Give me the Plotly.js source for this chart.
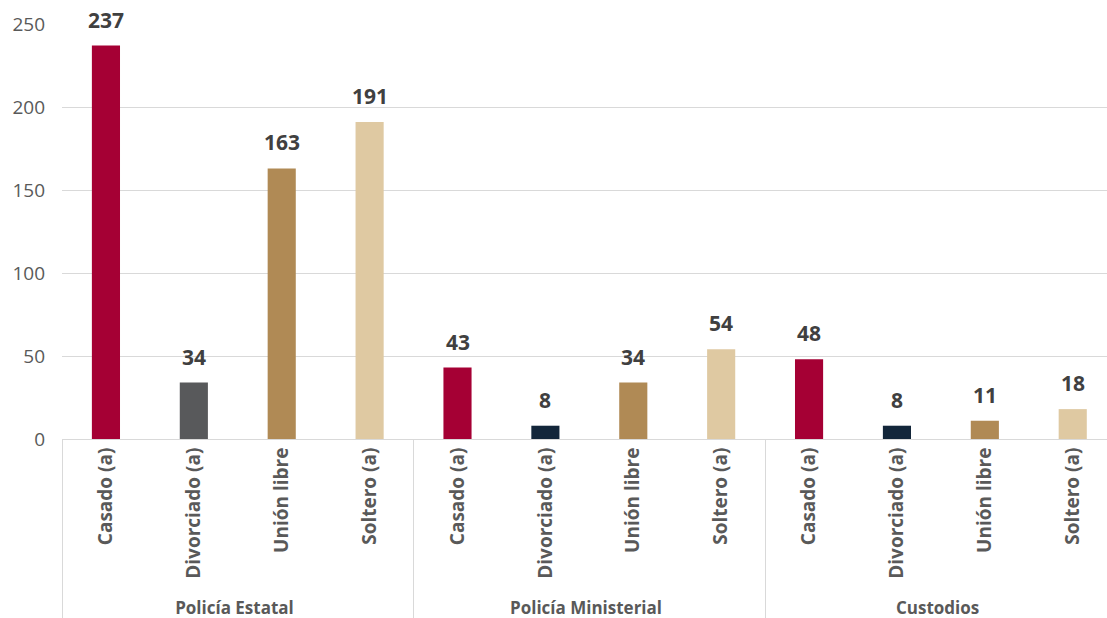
<!DOCTYPE html>
<html>
<head>
<meta charset="utf-8">
<script src="https://cdn.plot.ly/plotly-3.0.1.min.js"></script>
<style>html,body{margin:0;padding:0;background:#fff;}#chart{width:1107px;height:618px;}</style>
</head>
<body>
<div id="chart"></div>
<script>
const groups = ["Policía Estatal","Policía Estatal","Policía Estatal","Policía Estatal",
  "Policía Ministerial","Policía Ministerial","Policía Ministerial","Policía Ministerial",
  "Custodios","Custodios","Custodios","Custodios"];
const groupNames = ["Policía Estatal","Policía Ministerial","Custodios"];
const categories = ["Casado (a)","Divorciado (a)","Unión libre","Soltero (a)",
  "Casado (a)","Divorciado (a)","Unión libre","Soltero (a)",
  "Casado (a)","Divorciado (a)","Unión libre","Soltero (a)"];
const values = [237,34,163,191, 43,8,34,54, 48,8,11,18];
const barColors = ["#A50034","#58595B","#B08A55","#DFC9A2",
  "#A50034","#13263A","#B08A55","#DFC9A2",
  "#A50034","#13263A","#B08A55","#DFC9A2"];
const yTicks = [0,50,100,150,200,250];

const FONT = 'Open Sans, sans-serif';
const xRange = [-0.5, values.length - 0.61];

const trace = {
  type: 'bar',
  x: [groups, categories],
  y: values,
  marker: {color: barColors},
  hoverinfo: 'none'
};

const annotations = values.map((v, i) => ({
  xref: 'paper', yref: 'y',
  x: (i - xRange[0]) / (xRange[1] - xRange[0]),
  y: v,
  text: String(v),
  showarrow: false,
  xanchor: 'center', yanchor: 'bottom',
  yshift: 10,
  font: {family: FONT, size: 21, color: '#404040', weight: 'bold'}
}));

const layout = {
  width: 1107, height: 618,
  margin: {l: 62, r: 0, t: 24, b: 179},
  paper_bgcolor: '#fff', plot_bgcolor: '#fff',
  bargap: 0.68,
  showlegend: false,
  annotations: annotations,
  xaxis: {
    type: 'multicategory',
    range: xRange,
    tickangle: -90,
    tickfont: {family: FONT, size: 19, color: '#595959', weight: 'bold'},
    showline: true, linecolor: '#d9d9d9', linewidth: 1,
    showdividers: true, dividercolor: '#d9d9d9', dividerwidth: 1,
    ticks: '', showgrid: false
  },
  yaxis: {
    range: [0, 250],
    tickvals: yTicks,
    tickfont: {family: FONT, size: 19, color: '#595959'},
    gridcolor: '#d9d9d9', gridwidth: 1,
    zeroline: false, showline: false, ticks: '', ticklabelstandoff: 16
  }
};

Plotly.newPlot('chart', [trace], layout, {displayModeBar: false, staticPlot: true}).then(gd => {
  // group (secondary) labels: smaller than the category labels and placed near the bottom, as in the reference
  const svgTop = gd.getBoundingClientRect().top;
  gd.querySelectorAll('text').forEach(t => {
    if (groupNames.includes(t.textContent)) {
      t.style.fontSize = '17px';
      const r = t.getBoundingClientRect();
      const shift = 619 - (r.bottom - svgTop);
      const prev = t.getAttribute('transform') || '';
      t.setAttribute('transform', 'translate(0,' + shift.toFixed(1) + ') ' + prev);
    }
  });
});
</script>
</body>
</html>
